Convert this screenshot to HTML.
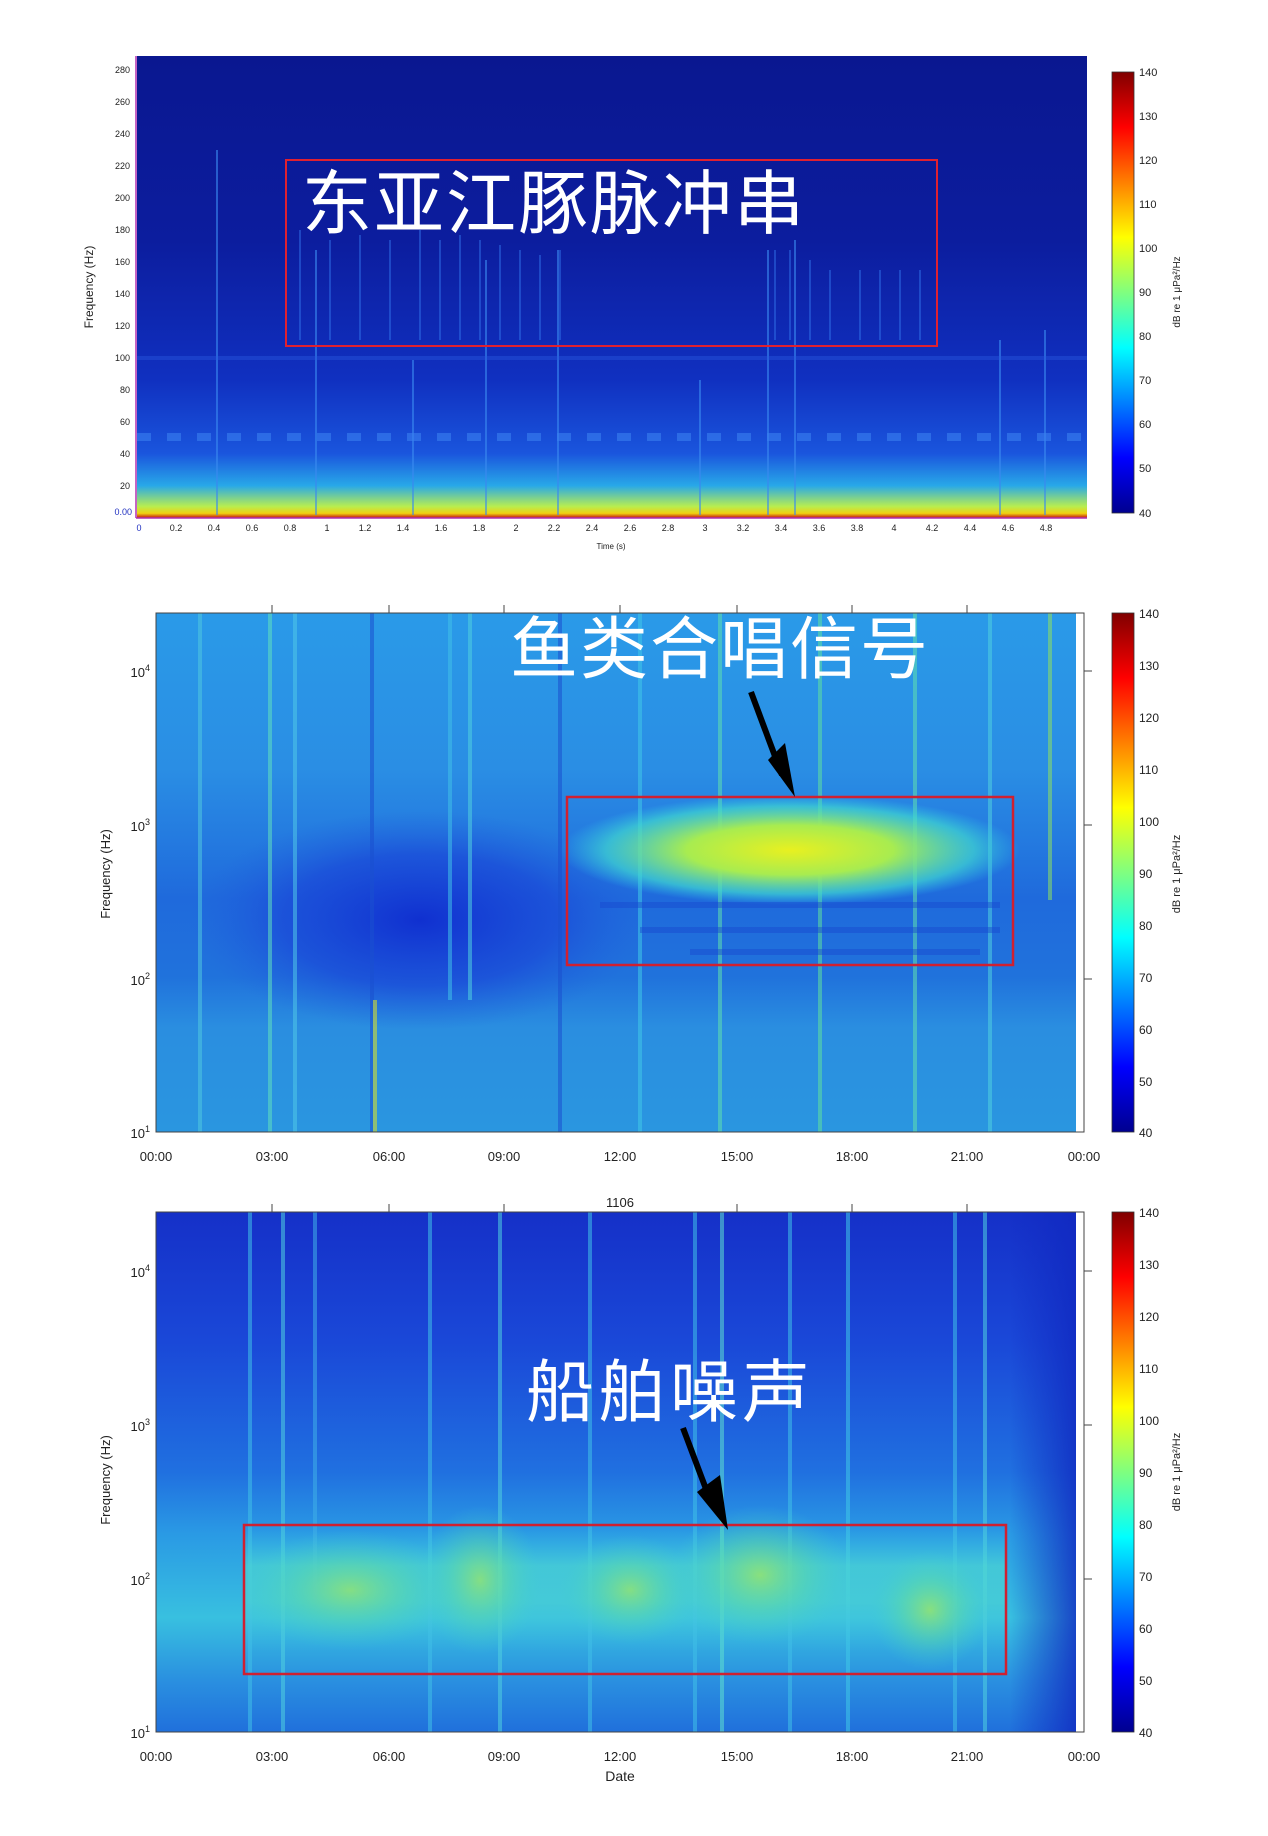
<!DOCTYPE html>
<html><head><meta charset="utf-8"><style>
html,body{margin:0;padding:0;background:#fff;}
svg{display:block;}
text{font-family:"Liberation Sans","Noto Sans CJK SC",sans-serif;}
</style></head><body>
<svg width="1268" height="1836" viewBox="0 0 1268 1836" xmlns="http://www.w3.org/2000/svg">
<defs>
<linearGradient id="jet" x1="0" y1="1" x2="0" y2="0">
<stop offset="0" stop-color="#00008f"/><stop offset="0.125" stop-color="#0000ff"/>
<stop offset="0.375" stop-color="#00ffff"/><stop offset="0.625" stop-color="#ffff00"/>
<stop offset="0.875" stop-color="#ff0000"/><stop offset="1" stop-color="#800000"/>
</linearGradient>
<linearGradient id="p1" x1="0" y1="0" x2="0" y2="1">
<stop offset="0" stop-color="#0a1790"/><stop offset="0.4" stop-color="#0c1d9e"/>
<stop offset="0.7" stop-color="#1030c0"/><stop offset="0.86" stop-color="#1a55dd"/>
<stop offset="0.93" stop-color="#28a8e8"/><stop offset="0.975" stop-color="#b8ee50"/>
<stop offset="0.99" stop-color="#f0d010"/><stop offset="1" stop-color="#c01010"/>
</linearGradient>
<linearGradient id="p2" x1="0" y1="0" x2="0" y2="1">
<stop offset="0" stop-color="#2a9ae8"/><stop offset="0.3" stop-color="#2a8ee4"/>
<stop offset="0.55" stop-color="#1f6adc"/><stop offset="0.7" stop-color="#2072dc"/>
<stop offset="0.8" stop-color="#2a8ee0"/><stop offset="1" stop-color="#2a96e0"/>
</linearGradient>
<radialGradient id="yb" cx="0.5" cy="0.5" r="0.5">
<stop offset="0" stop-color="#e8f020"/><stop offset="0.45" stop-color="#a8ec50"/>
<stop offset="0.8" stop-color="#40d8d0" stop-opacity="0.7"/><stop offset="1" stop-color="#30c8e8" stop-opacity="0"/>
</radialGradient>
<radialGradient id="db" cx="0.5" cy="0.5" r="0.5">
<stop offset="0" stop-color="#1030d0"/><stop offset="0.6" stop-color="#1a48d8" stop-opacity="0.7"/><stop offset="1" stop-color="#2060dc" stop-opacity="0"/>
</radialGradient>
<linearGradient id="p3" x1="0" y1="0" x2="0" y2="1">
<stop offset="0" stop-color="#1530c8"/><stop offset="0.25" stop-color="#1a48d8"/>
<stop offset="0.5" stop-color="#2070e0"/><stop offset="0.62" stop-color="#2a9ae4"/>
<stop offset="0.78" stop-color="#38c0e0"/><stop offset="0.9" stop-color="#2a90e0"/>
<stop offset="1" stop-color="#2070dc"/>
</linearGradient>
<radialGradient id="gb" cx="0.5" cy="0.5" r="0.5">
<stop offset="0" stop-color="#a0e860"/><stop offset="0.5" stop-color="#60dca0" stop-opacity="0.6"/><stop offset="1" stop-color="#40d0d0" stop-opacity="0"/>
</radialGradient>
<linearGradient id="band3" x1="0" y1="0" x2="0" y2="1">
<stop offset="0" stop-color="#40d0e0" stop-opacity="0"/><stop offset="0.3" stop-color="#50dcd0" stop-opacity="0.6"/>
<stop offset="0.6" stop-color="#50d8d0" stop-opacity="0.55"/><stop offset="1" stop-color="#40c0e0" stop-opacity="0"/>
</linearGradient>
<linearGradient id="rdark" x1="0" y1="0" x2="1" y2="0">
<stop offset="0" stop-color="#1028c0" stop-opacity="0"/><stop offset="1" stop-color="#1028c0" stop-opacity="0.8"/>
</linearGradient>
</defs>

<!-- ===== Panel 1 ===== -->
<rect x="137" y="56" width="950" height="462" fill="url(#p1)"/>
<g stroke="#3a8af0" stroke-width="2" opacity="0.6">
<line x1="217" y1="150" x2="217" y2="515"/><line x1="316" y1="250" x2="316" y2="515"/>
<line x1="413" y1="360" x2="413" y2="515"/><line x1="486" y1="260" x2="486" y2="515"/>
<line x1="558" y1="250" x2="558" y2="515"/><line x1="768" y1="250" x2="768" y2="515"/>
<line x1="795" y1="240" x2="795" y2="515"/><line x1="1045" y1="330" x2="1045" y2="515"/>
<line x1="1000" y1="340" x2="1000" y2="515"/><line x1="700" y1="380" x2="700" y2="515"/>
</g>
<line x1="137" y1="437" x2="1087" y2="437" stroke="#3a80f0" stroke-width="8" stroke-dasharray="14,16" opacity="0.6"/>
<rect x="137" y="356" width="950" height="4" fill="#2a5ae0" opacity="0.4"/>
<g stroke="#3070e8" stroke-width="2" opacity="0.5">
<line x1="300" y1="230" x2="300" y2="340"/><line x1="330" y1="240" x2="330" y2="340"/>
<line x1="360" y1="235" x2="360" y2="340"/><line x1="390" y1="240" x2="390" y2="340"/>
<line x1="420" y1="230" x2="420" y2="340"/><line x1="440" y1="240" x2="440" y2="340"/>
<line x1="460" y1="235" x2="460" y2="340"/><line x1="480" y1="240" x2="480" y2="340"/>
<line x1="500" y1="245" x2="500" y2="340"/><line x1="520" y1="250" x2="520" y2="340"/>
<line x1="540" y1="255" x2="540" y2="340"/><line x1="560" y1="250" x2="560" y2="340"/>
<line x1="775" y1="250" x2="775" y2="340"/><line x1="790" y1="250" x2="790" y2="340"/>
<line x1="810" y1="260" x2="810" y2="340"/><line x1="830" y1="270" x2="830" y2="340"/>
<line x1="860" y1="270" x2="860" y2="340"/><line x1="880" y1="270" x2="880" y2="340"/>
<line x1="900" y1="270" x2="900" y2="340"/><line x1="920" y1="270" x2="920" y2="340"/>
</g>
<rect x="286" y="160" width="651" height="186" fill="none" stroke="#e02030" stroke-width="2"/>
<text x="302" y="228" font-size="70" fill="#fff" font-family="Noto Serif CJK SC,serif" letter-spacing="2">东亚江豚脉冲串</text>
<line x1="136" y1="56" x2="136" y2="518" stroke="#b030b0" stroke-width="1.5"/>
<line x1="136" y1="518" x2="1087" y2="518" stroke="#b030b0" stroke-width="1.5"/>
<g font-size="9" fill="#222" text-anchor="end">
<text x="130" y="73">280</text><text x="130" y="105">260</text><text x="130" y="137">240</text>
<text x="130" y="169">220</text><text x="130" y="201">200</text><text x="130" y="233">180</text>
<text x="130" y="265">160</text><text x="130" y="297">140</text><text x="130" y="329">120</text>
<text x="130" y="361">100</text><text x="130" y="393">80</text><text x="130" y="425">60</text>
<text x="130" y="457">40</text><text x="130" y="489">20</text><text x="132" y="515" fill="#2030c0">0.00</text>
</g>
<g font-size="9" fill="#222" text-anchor="middle">
<text x="139" y="531" fill="#2030c0">0</text><text x="176" y="531">0.2</text><text x="214" y="531">0.4</text>
<text x="252" y="531">0.6</text><text x="290" y="531">0.8</text><text x="327" y="531">1</text>
<text x="365" y="531">1.2</text><text x="403" y="531">1.4</text><text x="441" y="531">1.6</text>
<text x="479" y="531">1.8</text><text x="516" y="531">2</text><text x="554" y="531">2.2</text>
<text x="592" y="531">2.4</text><text x="630" y="531">2.6</text><text x="668" y="531">2.8</text>
<text x="705" y="531">3</text><text x="743" y="531">3.2</text><text x="781" y="531">3.4</text>
<text x="819" y="531">3.6</text><text x="857" y="531">3.8</text><text x="894" y="531">4</text>
<text x="932" y="531">4.2</text><text x="970" y="531">4.4</text><text x="1008" y="531">4.6</text>
<text x="1046" y="531">4.8</text>
<text x="611" y="549" font-size="8">Time (s)</text>
</g>
<text transform="translate(93,287) rotate(-90)" font-size="12" fill="#222" text-anchor="middle">Frequency (Hz)</text>
<rect x="1112" y="72" width="22" height="441" fill="url(#jet)" stroke="#333" stroke-width="0.8"/>
<g font-size="11" fill="#222">
<text x="1139" y="76">140</text><text x="1139" y="120">130</text><text x="1139" y="164">120</text>
<text x="1139" y="208">110</text><text x="1139" y="252">100</text><text x="1139" y="296">90</text>
<text x="1139" y="340">80</text><text x="1139" y="384">70</text><text x="1139" y="428">60</text>
<text x="1139" y="472">50</text><text x="1139" y="517">40</text>
</g>
<text transform="translate(1180,292) rotate(-90)" font-size="10" fill="#222" text-anchor="middle">dB re 1 μPa²/Hz</text>

<!-- ===== Panel 2 ===== -->
<rect x="156" y="613" width="920" height="519" fill="url(#p2)"/>
<ellipse cx="420" cy="920" rx="230" ry="110" fill="url(#db)"/>
<g stroke-width="4" opacity="0.55">
<line x1="270" y1="613" x2="270" y2="1132" stroke="#60e0c0"/><line x1="295" y1="613" x2="295" y2="1132" stroke="#50c8e8"/>
<line x1="372" y1="613" x2="372" y2="1132" stroke="#1a50d0"/><line x1="375" y1="1000" x2="375" y2="1132" stroke="#e0e020"/>
<line x1="450" y1="613" x2="450" y2="1000" stroke="#40c0e8"/><line x1="470" y1="613" x2="470" y2="1000" stroke="#50d0e0"/>
<line x1="720" y1="613" x2="720" y2="1132" stroke="#60e0b0"/><line x1="820" y1="613" x2="820" y2="1132" stroke="#60e0a0"/>
<line x1="915" y1="613" x2="915" y2="1132" stroke="#60e0b0"/><line x1="1050" y1="613" x2="1050" y2="900" stroke="#90e060"/>
<line x1="990" y1="613" x2="990" y2="1132" stroke="#50d0e0"/><line x1="560" y1="613" x2="560" y2="1132" stroke="#1a50d0"/>
<line x1="640" y1="613" x2="640" y2="1132" stroke="#40c8e8"/><line x1="200" y1="613" x2="200" y2="1132" stroke="#50c8e0"/>
</g>
<ellipse cx="790" cy="850" rx="230" ry="55" fill="url(#yb)"/>
<g stroke="#1848d0" stroke-width="6" opacity="0.45">
<line x1="600" y1="905" x2="1000" y2="905"/><line x1="640" y1="930" x2="1000" y2="930"/><line x1="690" y1="952" x2="980" y2="952"/>
</g>
<rect x="567" y="797" width="446" height="168" fill="none" stroke="#d02030" stroke-width="2.5"/>
<text x="510" y="673" font-size="68" fill="#fff" font-family="Noto Serif CJK SC,serif" letter-spacing="2">鱼类合唱信号</text>
<line x1="751" y1="692" x2="782" y2="775" stroke="#000" stroke-width="6"/>
<polygon points="768,760 795,797 785,743" fill="#000"/>
<rect x="156" y="613" width="928" height="519" fill="none" stroke="#444" stroke-width="1"/>
<g stroke="#444" stroke-width="1">
<line x1="272" y1="605" x2="272" y2="613"/><line x1="389" y1="605" x2="389" y2="613"/><line x1="504" y1="605" x2="504" y2="613"/>
<line x1="620" y1="605" x2="620" y2="613"/><line x1="737" y1="605" x2="737" y2="613"/><line x1="852" y1="605" x2="852" y2="613"/>
<line x1="967" y1="605" x2="967" y2="613"/>
<line x1="1084" y1="671" x2="1092" y2="671"/><line x1="1084" y1="825" x2="1092" y2="825"/><line x1="1084" y1="979" x2="1092" y2="979"/>
</g>
<g font-size="13" fill="#222" text-anchor="end">
<text x="150" y="677">10<tspan font-size="9" dy="-6">4</tspan></text>
<text x="150" y="831">10<tspan font-size="9" dy="-6">3</tspan></text>
<text x="150" y="985">10<tspan font-size="9" dy="-6">2</tspan></text>
<text x="150" y="1138">10<tspan font-size="9" dy="-6">1</tspan></text>
</g>
<g font-size="13" fill="#222" text-anchor="middle">
<text x="156" y="1161">00:00</text><text x="272" y="1161">03:00</text><text x="389" y="1161">06:00</text>
<text x="504" y="1161">09:00</text><text x="620" y="1161">12:00</text><text x="737" y="1161">15:00</text>
<text x="852" y="1161">18:00</text><text x="967" y="1161">21:00</text><text x="1084" y="1161">00:00</text>
</g>
<text transform="translate(110,874) rotate(-90)" font-size="13" fill="#222" text-anchor="middle">Frequency (Hz)</text>
<rect x="1112" y="613" width="22" height="519" fill="url(#jet)" stroke="#333" stroke-width="0.8"/>
<g font-size="12" fill="#222">
<text x="1139" y="618">140</text><text x="1139" y="670">130</text><text x="1139" y="722">120</text>
<text x="1139" y="774">110</text><text x="1139" y="826">100</text><text x="1139" y="878">90</text>
<text x="1139" y="930">80</text><text x="1139" y="982">70</text><text x="1139" y="1034">60</text>
<text x="1139" y="1086">50</text><text x="1139" y="1137">40</text>
</g>
<text transform="translate(1180,874) rotate(-90)" font-size="11" fill="#222" text-anchor="middle">dB re 1 μPa²/Hz</text>

<!-- ===== Panel 3 ===== -->
<text x="620" y="1207" font-size="13" fill="#222" text-anchor="middle">1106</text>
<rect x="156" y="1212" width="920" height="520" fill="url(#p3)"/>
<g stroke-width="4" opacity="0.55">
<line x1="250" y1="1212" x2="250" y2="1732" stroke="#40c0e8"/><line x1="283" y1="1212" x2="283" y2="1732" stroke="#50d0e0"/>
<line x1="315" y1="1212" x2="315" y2="1600" stroke="#40b0e8"/><line x1="430" y1="1212" x2="430" y2="1732" stroke="#40c0e8"/>
<line x1="500" y1="1212" x2="500" y2="1732" stroke="#50d0e0"/><line x1="722" y1="1212" x2="722" y2="1732" stroke="#60e0d0"/>
<line x1="695" y1="1212" x2="695" y2="1732" stroke="#40c0e8"/><line x1="848" y1="1212" x2="848" y2="1732" stroke="#40c8e8"/>
<line x1="985" y1="1212" x2="985" y2="1732" stroke="#50d0e0"/><line x1="955" y1="1212" x2="955" y2="1732" stroke="#40c0e8"/>
<line x1="790" y1="1212" x2="790" y2="1732" stroke="#40c0e8"/><line x1="590" y1="1212" x2="590" y2="1732" stroke="#40c0e8"/>
</g>
<rect x="1010" y="1212" width="66" height="520" fill="url(#rdark)"/>
<rect x="244" y="1530" width="762" height="120" fill="url(#band3)"/>
<ellipse cx="350" cy="1590" rx="110" ry="60" fill="url(#gb)" opacity="0.7"/>
<ellipse cx="480" cy="1580" rx="60" ry="75" fill="url(#gb)" opacity="0.7"/>
<ellipse cx="630" cy="1590" rx="70" ry="55" fill="url(#gb)" opacity="0.7"/>
<ellipse cx="760" cy="1575" rx="90" ry="70" fill="url(#gb)" opacity="0.75"/>
<ellipse cx="930" cy="1610" rx="60" ry="60" fill="url(#gb)" opacity="0.75"/>
<rect x="244" y="1525" width="762" height="149" fill="none" stroke="#d02030" stroke-width="2.5"/>
<text x="526" y="1416" font-size="68" fill="#fff" font-family="Noto Serif CJK SC,serif" letter-spacing="4">船舶噪声</text>
<line x1="683" y1="1428" x2="712" y2="1505" stroke="#000" stroke-width="6"/>
<polygon points="697,1492 728,1530 720,1475" fill="#000"/>
<rect x="156" y="1212" width="928" height="520" fill="none" stroke="#444" stroke-width="1"/>
<g stroke="#444" stroke-width="1">
<line x1="272" y1="1204" x2="272" y2="1212"/><line x1="389" y1="1204" x2="389" y2="1212"/><line x1="504" y1="1204" x2="504" y2="1212"/>
<line x1="737" y1="1204" x2="737" y2="1212"/><line x1="852" y1="1204" x2="852" y2="1212"/><line x1="967" y1="1204" x2="967" y2="1212"/>
<line x1="1084" y1="1271" x2="1092" y2="1271"/><line x1="1084" y1="1425" x2="1092" y2="1425"/><line x1="1084" y1="1579" x2="1092" y2="1579"/>
</g>
<g font-size="13" fill="#222" text-anchor="end">
<text x="150" y="1277">10<tspan font-size="9" dy="-6">4</tspan></text>
<text x="150" y="1431">10<tspan font-size="9" dy="-6">3</tspan></text>
<text x="150" y="1585">10<tspan font-size="9" dy="-6">2</tspan></text>
<text x="150" y="1738">10<tspan font-size="9" dy="-6">1</tspan></text>
</g>
<g font-size="13" fill="#222" text-anchor="middle">
<text x="156" y="1761">00:00</text><text x="272" y="1761">03:00</text><text x="389" y="1761">06:00</text>
<text x="504" y="1761">09:00</text><text x="620" y="1761">12:00</text><text x="737" y="1761">15:00</text>
<text x="852" y="1761">18:00</text><text x="967" y="1761">21:00</text><text x="1084" y="1761">00:00</text>
<text x="620" y="1781" font-size="14">Date</text>
</g>
<text transform="translate(110,1480) rotate(-90)" font-size="13" fill="#222" text-anchor="middle">Frequency (Hz)</text>
<rect x="1112" y="1212" width="22" height="520" fill="url(#jet)" stroke="#333" stroke-width="0.8"/>
<g font-size="12" fill="#222">
<text x="1139" y="1217">140</text><text x="1139" y="1269">130</text><text x="1139" y="1321">120</text>
<text x="1139" y="1373">110</text><text x="1139" y="1425">100</text><text x="1139" y="1477">90</text>
<text x="1139" y="1529">80</text><text x="1139" y="1581">70</text><text x="1139" y="1633">60</text>
<text x="1139" y="1685">50</text><text x="1139" y="1737">40</text>
</g>
<text transform="translate(1180,1472) rotate(-90)" font-size="11" fill="#222" text-anchor="middle">dB re 1 μPa²/Hz</text>
</svg>
</body></html>
